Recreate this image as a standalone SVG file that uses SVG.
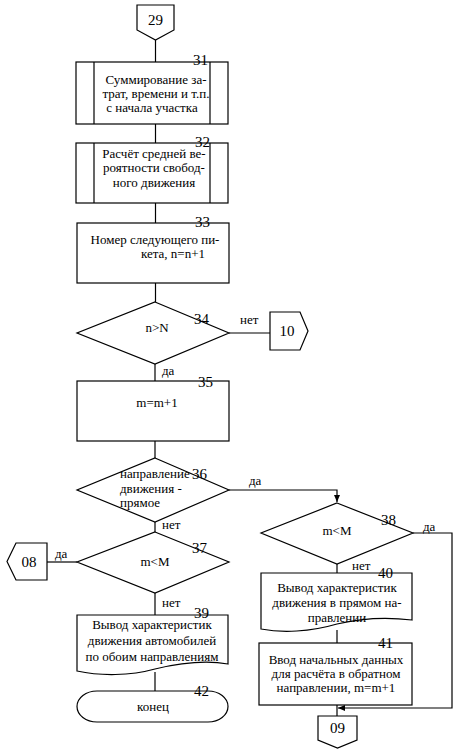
<svg xmlns="http://www.w3.org/2000/svg" width="461" height="753" viewBox="0 0 461 753">
<style>
.s{fill:none;stroke:#000;stroke-width:1.2}
.f{fill:#fff;stroke:#000;stroke-width:1.2}
text{font-family:"Liberation Serif","Times New Roman","DejaVu Serif",serif;font-size:13px;fill:#000}
.c{text-anchor:middle}
.n{font-size:15px}
.k{font-size:15px;text-anchor:middle}
</style>
<defs>
<marker id="ah" markerWidth="8" markerHeight="8" refX="7" refY="4" orient="auto" markerUnits="userSpaceOnUse">
<path d="M0,1 L7,4 L0,7 Z" fill="#000"/>
</marker>
</defs>
<rect width="461" height="753" fill="#fff"/>
<g id="connectors" class="s">
<path d="M155.5,40 V62"/>
<path d="M155.5,124 V143"/>
<path d="M155.5,203 V223"/>
<path d="M155.5,283 V302"/>
<path d="M229,333 H270"/>
<path d="M155,364 V381"/>
<path d="M155,441 V458"/>
<path d="M229,490 H337 V502" marker-end="url(#ah)"/>
<path d="M155,522 V532"/>
<path d="M77,562 H47"/>
<path d="M155,593 V615"/>
<path d="M155,672 V691"/>
<path d="M413,533 H452 V708 H338" marker-end="url(#ah)"/>
<path d="M337,564 V573"/>
<path d="M337,630 V643"/>
<path d="M337,705 V716"/>
</g>
<g id="n29">
<path class="f" d="M137,5 H174 V30 L155.5,40 L137,30 Z"/>
<text class="k" x="155.5" y="25">29</text>
</g>
<g id="n31">
<rect class="f" x="76" y="62" width="152" height="62"/>
<path class="s" d="M94,62 V124 M210,62 V124"/>
<text class="c" x="156" y="84">Суммирование за-</text>
<text class="c" x="156" y="98">трат, времени и т.п.</text>
<text class="c" x="152" y="112">с начала участка</text>
<text class="n" x="193" y="65">31</text>
</g>
<g id="n32">
<rect class="f" x="76" y="143" width="152" height="60"/>
<path class="s" d="M94,143 V203 M210,143 V203"/>
<text class="c" x="154" y="158">Расчёт средней ве-</text>
<text class="c" x="154" y="172">роятности свобод-</text>
<text class="c" x="154" y="187">ного движения</text>
<text class="n" x="195" y="147">32</text>
</g>
<g id="n33">
<rect class="f" x="77" y="223" width="152" height="60"/>
<text class="c" x="155" y="244">Номер следующего пи-</text>
<text x="141" y="258">кета, n=n+1</text>
<text class="n" x="195" y="227">33</text>
</g>
<g id="n34">
<path class="f" d="M155,302 L229,333 L155,364 L77,333 Z"/>
<text class="c" x="157" y="332">n&gt;N</text>
<text class="n" x="194" y="324">34</text>
<text x="240" y="324">нет</text>
<text x="162" y="375">да</text>
</g>
<g id="n10">
<path class="f" d="M270,312 H300 L308,331 L300,350 H270 Z"/>
<text class="k" x="287" y="336">10</text>
</g>
<g id="n35">
<rect class="f" x="77" y="381" width="152" height="60"/>
<text class="c" x="157" y="407">m=m+1</text>
<text class="n" x="198" y="387">35</text>
</g>
<g id="n36">
<path class="f" d="M155,458 L229,490 L155,522 L77,490 Z"/>
<text x="120" y="478">направление</text>
<text x="120" y="493">движения -</text>
<text x="120" y="507">прямое</text>
<text class="n" x="192" y="479">36</text>
<text x="249" y="485">да</text>
<text x="162" y="529">нет</text>
</g>
<g id="n37">
<path class="f" d="M155,532 L229,562 L155,593 L77,562 Z"/>
<text class="c" x="155" y="566">m&lt;M</text>
<text class="n" x="192" y="553">37</text>
<text x="55" y="558">да</text>
<text x="162" y="607">нет</text>
</g>
<g id="n08">
<path class="f" d="M47,543 V580 H16 L7,561.5 L16,543 Z"/>
<text class="k" x="29" y="567">08</text>
</g>
<g id="n39">
<path class="f" d="M77,615 H228 V664 C205,660 180,663 155,669 C130,676 100,676 77,671 Z"/>
<text class="c" x="152" y="629">Вывод характеристик</text>
<text class="c" x="152" y="645">движения автомобилей</text>
<text class="c" x="152" y="661">по обоим направлениям</text>
<text class="n" x="194" y="618">39</text>
</g>
<g id="n42">
<path class="f" d="M97,691 H208 A20,15.5 0 0 1 208,722 H97 A20,15.5 0 0 1 97,691 Z"/>
<text class="c" x="153" y="711">конец</text>
<text class="n" x="194" y="696">42</text>
</g>
<g id="n38">
<path class="f" d="M337,503 L413,533 L337,564 L261,533 Z"/>
<text class="c" x="337" y="535">m&lt;M</text>
<text class="n" x="381" y="525">38</text>
<text x="423" y="531">да</text>
<text x="352" y="570">нет</text>
</g>
<g id="n40">
<path class="f" d="M261,573 H412 V620 C388,617 362,618 337,624 C310,632 282,633 261,629 Z"/>
<text class="c" x="337" y="592">Вывод характеристик</text>
<text class="c" x="337" y="607">движения в прямом на-</text>
<text class="c" x="337" y="622">правлении</text>
<text class="n" x="378" y="578">40</text>
</g>
<g id="n41">
<rect class="f" x="259" y="643" width="153" height="62"/>
<text class="c" x="336" y="664">Ввод начальных данных</text>
<text class="c" x="336" y="678">для расчёта в обратном</text>
<text class="c" x="336" y="692">направлении, m=m+1</text>
<text class="n" x="378" y="648">41</text>
</g>
<g id="n09">
<path class="f" d="M318,716 H357 V740 L337.5,748 L318,740 Z"/>
<text class="k" x="337.5" y="733">09</text>
</g>
</svg>
